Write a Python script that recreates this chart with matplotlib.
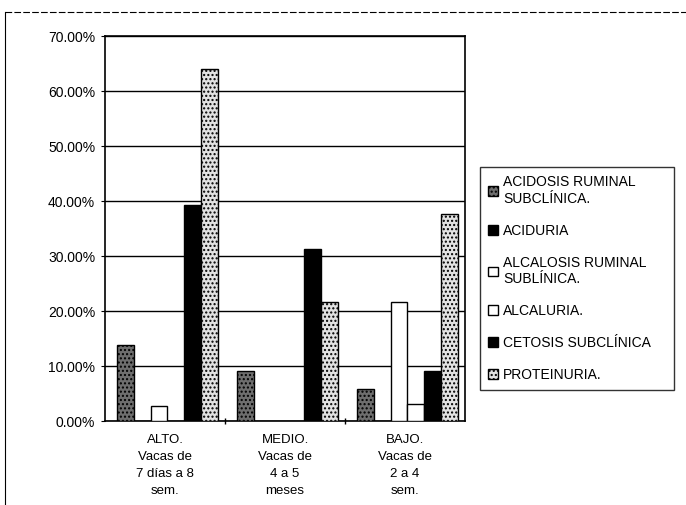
import matplotlib
matplotlib.use("Agg")
import matplotlib.pyplot as plt
from matplotlib.patches import Patch
from matplotlib.lines import Line2D
from matplotlib.ticker import PercentFormatter
import numpy as np

plt.rcParams['font.family'] = ['Liberation Sans', 'DejaVu Sans']

categories = ["ALTO.\nVacas de\n7 días a 8\nsem.",
              "MEDIO.\nVacas de\n4 a 5\nmeses",
              "BAJO.\nVacas de\n2 a 4\nsem."]
series = ["ACIDOSIS RUMINAL\nSUBCLÍNICA.", "ACIDURIA",
          "ALCALOSIS RUMINAL\nSUBLÍNICA.", "ALCALURIA.",
          "CETOSIS SUBCLÍNICA", "PROTEINURIA."]
acidosis = [13.8, 9.1, 5.9]
aciduria = [0.0, 0.0, 0.0]
alcalosis = [2.7, 0.0, 21.6]
alcaluria = [0.0, 0.0, 3.1]
cetosis = [39.3, 31.3, 9.1]
proteinuria = [64.1, 21.7, 37.6]
values = [acidosis, aciduria, alcalosis, alcaluria, cetosis, proteinuria]

# face colour and hatch for each series (black & white print look)
styles = [('#6e6e6e', '....'), ('black', ''), ('white', ''),
          ('white', ''), ('black', ''), ('#e2e2e2', '....')]

fig = plt.figure(figsize=(6.86, 5.05), dpi=100)
ax = fig.add_axes([0.153, 0.166, 0.525, 0.762])

x = np.arange(len(categories))
w = 0.835 / len(series)
handles = []
for i, (vals, (fc, hatch)) in enumerate(zip(values, styles)):
    pos = x - 0.835 / 2 + w * (i + 0.5) + 0.02
    ax.bar(pos, np.array(vals) / 100, width=w, color=fc, hatch=hatch,
           edgecolor='black', linewidth=1.0, zorder=3)
    handles.append(Patch(facecolor=fc, hatch=hatch, edgecolor='black', linewidth=1.0))

ax.set_xlim(-0.5, 2.5)
ax.set_ylim(0, 0.7)
ax.set_yticks(np.arange(0, 0.71, 0.1))
ax.yaxis.set_major_formatter(PercentFormatter(1.0, decimals=2))
ax.grid(axis='y', color='black', linewidth=1.0, zorder=0)
ax.set_axisbelow(True)
for s in ax.spines.values():
    s.set_linewidth(1.2)
ax.set_xticks(x)
ax.set_xticklabels(categories, fontsize=9.5, linespacing=1.55)
ax.tick_params(axis='x', length=0, pad=9)
ax.set_xticks([0.5, 1.5], minor=True)
ax.tick_params(axis='x', which='minor', direction='inout', length=5, width=1)
ax.tick_params(axis='y', labelsize=10, length=3, pad=4)

fig.legend(handles, series, loc='upper left',
           bbox_to_anchor=(480 / 686, 0, 194 / 686, 1 - 167 / 505), mode='expand',
           fontsize=10, frameon=True, fancybox=False, edgecolor='black',
           handlelength=0.7, handleheight=0.7, handletextpad=0.35,
           labelspacing=1.3, borderpad=0.6, borderaxespad=0)

# outer chart frame
fig.add_artist(Line2D([0.007, 1.0], [0.976, 0.976], transform=fig.transFigure,
                      color='black', linewidth=0.8, linestyle=(0, (6, 2))))
fig.add_artist(Line2D([0.007, 0.007], [0.0, 0.976], transform=fig.transFigure,
                      color='black', linewidth=0.8))

fig.savefig('out.png', dpi=100)
